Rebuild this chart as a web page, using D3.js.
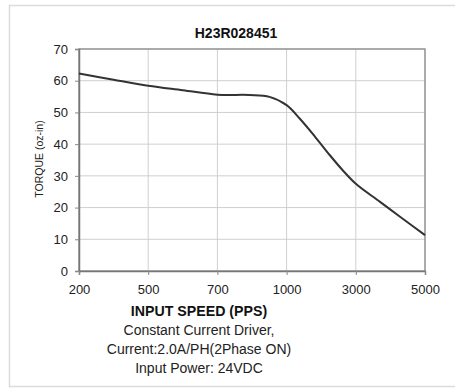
<!DOCTYPE html>
<html><head><meta charset="utf-8">
<script src="https://cdn.jsdelivr.net/npm/d3@7"></script>
<style>body{margin:0;background:#fff}svg{display:block;font-family:"Liberation Sans",Arial,sans-serif}</style>
</head><body><svg id="c" width="455" height="389"></svg>
<script>
const speedTicks = [200, 500, 700, 1000, 3000, 5000];
const torqueTicks = [0, 10, 20, 30, 40, 50, 60, 70];
const speeds = [200, 350, 500, 600, 700, 840, 926, 1000, 1384, 1818, 2251, 2627, 3000, 3701, 4278, 5000];
const torque = [62.3, 60.3, 58.4, 57.0, 55.6, 55.5, 54.9, 52.3, 48.0, 42.4, 36.5, 31.7, 27.5, 21.8, 17.1, 11.3];
const title = "H23R028451";
const xTitle = "INPUT SPEED (PPS)";
const notes = ["Constant Current Driver,", "Current:2.0A/PH(2Phase ON)", "Input Power: 24VDC"];

const svg = d3.select("#c");
const L = 79, R = 425, T = 49, B = 271;
const x = d3.scaleLinear().domain(speedTicks)
  .range(speedTicks.map((d, i) => L + i * (R - L) / (speedTicks.length - 1)));
const y = d3.scaleLinear().domain([0, 70]).range([B, T]);

svg.append("rect").attr("x", 9.5).attr("y", 5.5).attr("width", 470).attr("height", 381)
  .attr("fill", "none").attr("stroke", "#dcdcdc").attr("stroke-width", 1.5);

// grid
svg.append("g").selectAll("line").data(torqueTicks).join("line")
  .attr("x1", L).attr("x2", R).attr("y1", d => y(d)).attr("y2", d => y(d))
  .attr("stroke", "#cfcfcf").attr("stroke-width", 1);
svg.append("g").selectAll("line").data(speedTicks).join("line")
  .attr("y1", T).attr("y2", B).attr("x1", d => x(d)).attr("x2", d => x(d))
  .attr("stroke", "#cfcfcf").attr("stroke-width", 1);

// frame
svg.append("rect").attr("x", L).attr("y", T).attr("width", R - L).attr("height", B - T)
  .attr("fill", "none").attr("stroke", "#8a8a8a").attr("stroke-width", 1.3);

// axes
const ya = svg.append("g").attr("transform", `translate(${L},0)`)
  .call(d3.axisLeft(y).tickValues(torqueTicks).tickSize(4).tickPadding(7));
const xa = svg.append("g").attr("transform", `translate(0,${B})`)
  .call(d3.axisBottom(x).tickValues(speedTicks).tickFormat(d3.format("d")).tickSize(4).tickPadding(10));
[ya, xa].forEach(a => {
  a.select(".domain").attr("stroke", "#777").attr("stroke-width", 1.5);
  a.selectAll(".tick line").attr("stroke", "#888");
  a.selectAll("text").attr("font-size", 13).attr("fill", "#222")
    .attr("font-family", '"Liberation Sans",Arial,sans-serif');
});

// curve
const line = d3.line().x((d, i) => x(speeds[i])).y(d => y(d)).curve(d3.curveCatmullRom.alpha(0.5));
svg.append("path").datum(torque).attr("d", line)
  .attr("fill", "none").attr("stroke", "#333").attr("stroke-width", 2);

// texts
svg.append("text").attr("x", 236).attr("y", 38).attr("text-anchor", "middle")
  .attr("font-size", 14).attr("font-weight", "bold").attr("fill", "#111").text(title);
svg.append("text").attr("transform", "translate(43,159) rotate(-90)").attr("text-anchor", "middle")
  .attr("font-size", 10.5).attr("fill", "#222").text("TORQUE (oz-in)");
svg.append("text").attr("x", 199).attr("y", 316).attr("text-anchor", "middle")
  .attr("font-size", 14.2).attr("font-weight", "bold").attr("fill", "#111").text(xTitle);
svg.append("g").selectAll("text").data(notes).join("text")
  .attr("x", 199).attr("y", (d, i) => 335 + i * 19).attr("text-anchor", "middle")
  .attr("font-size", 14).attr("fill", "#222").text(d => d);
</script></body></html>
